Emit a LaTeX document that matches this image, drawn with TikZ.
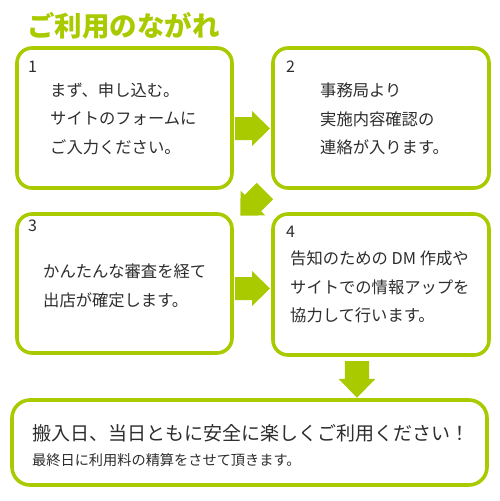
\documentclass[tikz,border=0pt]{standalone}
\usepackage{fontspec}
\setmainfont{Noto Sans CJK JP}
\definecolor{lime}{RGB}{170,202,0}
\definecolor{ink}{RGB}{45,45,45}
\begin{document}
\begin{tikzpicture}[x=1pt,y=-1pt,
  box/.style={draw=lime,line width=3.6pt,rounded corners=15pt,fill=white,inner sep=0pt},
  txt/.style={anchor=west,inner sep=0pt,text=ink,font=\fontsize{16.3}{18}\selectfont},
  num/.style={anchor=west,inner sep=0pt,text=ink,font=\fontsize{16}{18}\selectfont},
  blockarrow/.pic={\fill[lime] (0,-11.5) -- (17,-11.5) -- (17,-17.5) -- (35,0) -- (17,17.5) -- (17,11.5) -- (0,11.5) -- cycle;}
]
\useasboundingbox (0,0) rectangle (500,501);
% title
\node[anchor=west,inner sep=0pt,text=lime,font=\fontsize{27.5}{29}\bfseries] (title) at (27,26) {ご利用のながれ};
% boxes
\node[box,minimum width=215pt,minimum height=140pt] (b1) at (124.5,118) {};
\node[box,minimum width=216pt,minimum height=140pt] (b2) at (381,118) {};
\node[box,minimum width=215pt,minimum height=139pt] (b3) at (124.5,283.5) {};
\node[box,minimum width=216pt,minimum height=141pt] (b4) at (381,284.5) {};
\node[box,rounded corners=18pt,minimum width=475pt,minimum height=85pt] (b5) at (249.5,442.5) {};
% arrows
\pic at (235,128.5) {blockarrow};
\pic[rotate=225] at (265,191) {blockarrow};
\pic at (235,288.5) {blockarrow};
\pic[rotate=270,scale=1.05] at (357,361) {blockarrow};
% box 1
\node[num] (n1) at (28,67) {1};
\node[txt] (t11) at (50,90) {まず、申し込む。};
\node[txt] (t12) at (50,119) {サイトのフォームに};
\node[txt] (t13) at (50,147) {ご入力ください。};
% box 2
\node[num] (n2) at (286,67) {2};
\node[txt] (t21) at (320,90) {事務局より};
\node[txt] (t22) at (320,119) {実施内容確認の};
\node[txt] (t23) at (320,147) {連絡が入ります。};
% box 3
\node[num] (n3) at (28,226) {3};
\node[txt] (t31) at (43,271) {かんたんな審査を経て};
\node[txt] (t32) at (43,300) {出店が確定します。};
% box 4
\node[num] (n4) at (286,232) {4};
\node[txt] (t41) at (290,258) {告知のための DM 作成や};
\node[txt] (t42) at (290,287) {サイトでの情報アップを};
\node[txt] (t43) at (290,315) {協力して行います。};
% bottom
\node[anchor=west,inner sep=0pt,text=ink,font=\fontsize{19}{22}\selectfont] (t51) at (32,433) {搬入日、当日ともに安全に楽しくご利用ください！};
\node[anchor=west,inner sep=0pt,text=ink,font=\fontsize{14.2}{16}\selectfont] (t52) at (32,460) {最終日に利用料の精算をさせて頂きます。};
\end{tikzpicture}
\end{document}
